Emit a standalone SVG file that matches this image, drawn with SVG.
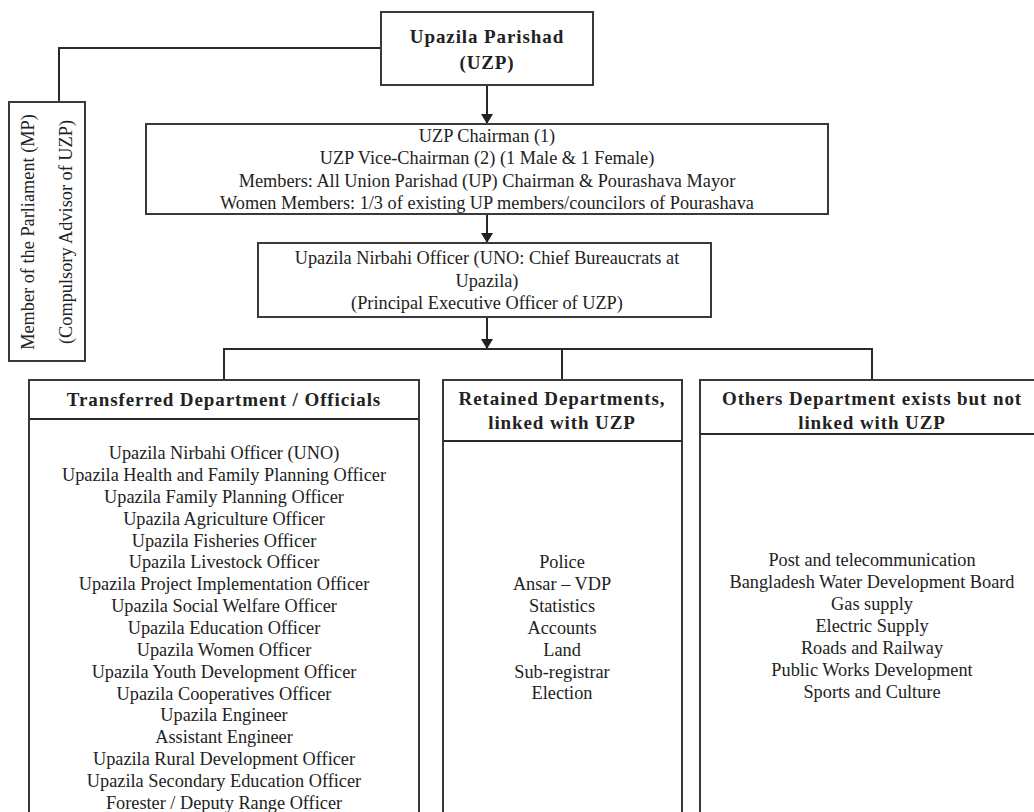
<svg xmlns="http://www.w3.org/2000/svg" width="1034" height="812" viewBox="0 0 1034 812">
<defs>
<marker id="ah" viewBox="0 0 10 12" refX="10" refY="6" markerWidth="10" markerHeight="12" markerUnits="userSpaceOnUse" orient="auto">
<path d="M0,0 L10,6 L0,12 Z" fill="#222"/>
</marker>
<style>
.box{fill:#fff;stroke:#3a3a3a;stroke-width:2}
.ln{fill:none;stroke:#2a2a2a;stroke-width:2}
.t{font-family:"Liberation Serif","Times New Roman",serif;font-size:18.3px;fill:#222;text-anchor:middle}
.b{font-family:"Liberation Serif","Times New Roman",serif;font-size:19px;font-weight:bold;fill:#222;text-anchor:middle;letter-spacing:0.9px}
</style>
</defs>
<rect width="1034" height="812" fill="#fff"/>
<g id="connectors">
<path class="ln" d="M381,48 H59 V102"/>
<path class="ln" d="M487,85 V124" marker-end="url(#ah)"/>
<path class="ln" d="M487,214 V243" marker-end="url(#ah)"/>
<path class="ln" d="M487,317 V349" marker-end="url(#ah)"/>
<path class="ln" d="M224,380 V349 H872 V380"/>
<path class="ln" d="M562,349 V380"/>
</g>
<g id="uzp">
<rect class="box" x="381" y="12" width="212" height="73"/>
<text class="b" x="487" y="43">Upazila Parishad</text>
<text class="b" x="487" y="69">(UZP)</text>
</g>
<g id="mp">
<rect class="box" x="9" y="102" width="76" height="259"/>
<text class="t" transform="translate(34,232) rotate(-90)">Member of the Parliament (MP)</text>
<text class="t" transform="translate(72,232) rotate(-90)">(Compulsory Advisor of UZP)</text>
</g>
<g id="chairman">
<rect class="box" x="146" y="124" width="682" height="90"/>
<text class="t" x="487" y="142">UZP Chairman (1)</text>
<text class="t" x="487" y="164">UZP Vice-Chairman (2) (1 Male &amp; 1 Female)</text>
<text class="t" x="487" y="187">Members: All Union Parishad (UP) Chairman &amp; Pourashava Mayor</text>
<text class="t" x="487" y="209">Women Members: 1/3 of existing UP members/councilors of Pourashava</text>
</g>
<g id="uno">
<rect class="box" x="258" y="243" width="453" height="74"/>
<text class="t" x="487" y="264">Upazila Nirbahi Officer (UNO: Chief Bureaucrats at</text>
<text class="t" x="487" y="287">Upazila)</text>
<text class="t" x="487" y="309">(Principal Executive Officer of UZP)</text>
</g>
<g id="transferred">
<rect class="box" x="29" y="380" width="390" height="440"/>
<line class="ln" x1="29" y1="419" x2="419" y2="419"/>
<text class="b" x="224" y="406">Transferred Department / Officials</text>
<text class="t" x="224" y="459">Upazila Nirbahi Officer (UNO)</text>
<text class="t" x="224" y="481">Upazila Health and Family Planning Officer</text>
<text class="t" x="224" y="503">Upazila Family Planning Officer</text>
<text class="t" x="224" y="525">Upazila Agriculture Officer</text>
<text class="t" x="224" y="547">Upazila Fisheries Officer</text>
<text class="t" x="224" y="568">Upazila Livestock Officer</text>
<text class="t" x="224" y="590">Upazila Project Implementation Officer</text>
<text class="t" x="224" y="612">Upazila Social Welfare Officer</text>
<text class="t" x="224" y="634">Upazila Education Officer</text>
<text class="t" x="224" y="656">Upazila Women Officer</text>
<text class="t" x="224" y="678">Upazila Youth Development Officer</text>
<text class="t" x="224" y="700">Upazila Cooperatives Officer</text>
<text class="t" x="224" y="721">Upazila Engineer</text>
<text class="t" x="224" y="743">Assistant Engineer</text>
<text class="t" x="224" y="765">Upazila Rural Development Officer</text>
<text class="t" x="224" y="787">Upazila Secondary Education Officer</text>
<text class="t" x="224" y="809">Forester / Deputy Range Officer</text>
</g>
<g id="retained">
<rect class="box" x="443" y="380" width="239" height="440"/>
<line class="ln" x1="443" y1="441" x2="682" y2="441"/>
<text class="b" x="562" y="405">Retained Departments,</text>
<text class="b" x="562" y="429">linked with UZP</text>
<text class="t" x="562" y="568">Police</text>
<text class="t" x="562" y="590">Ansar – VDP</text>
<text class="t" x="562" y="612">Statistics</text>
<text class="t" x="562" y="634">Accounts</text>
<text class="t" x="562" y="656">Land</text>
<text class="t" x="562" y="678">Sub-registrar</text>
<text class="t" x="562" y="699">Election</text>
</g>
<g id="others">
<rect class="box" x="700" y="380" width="344" height="440"/>
<line class="ln" x1="700" y1="434" x2="1044" y2="434"/>
<text class="b" x="872" y="405">Others Department exists but not</text>
<text class="b" x="872" y="429">linked with UZP</text>
<text class="t" x="872" y="566">Post and telecommunication</text>
<text class="t" x="872" y="588">Bangladesh Water Development Board</text>
<text class="t" x="872" y="610">Gas supply</text>
<text class="t" x="872" y="632">Electric Supply</text>
<text class="t" x="872" y="654">Roads and Railway</text>
<text class="t" x="872" y="676">Public Works Development</text>
<text class="t" x="872" y="698">Sports and Culture</text>
</g>
</svg>
